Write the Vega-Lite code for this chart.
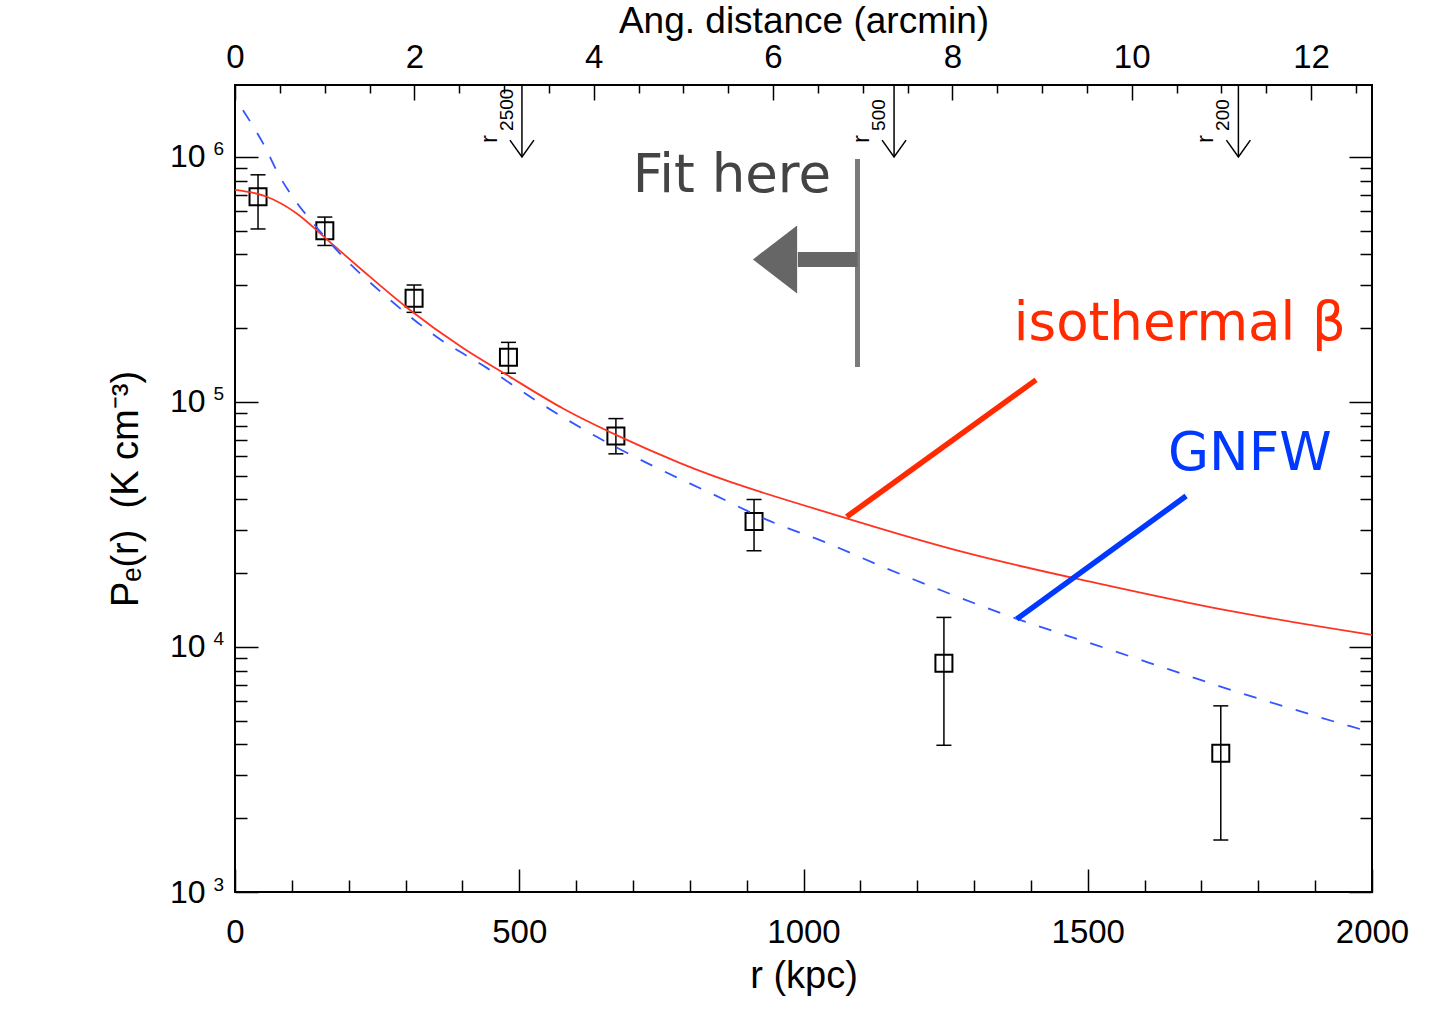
{
  "$schema": "https://vega.github.io/schema/vega-lite/v6.json",
  "width": 1137,
  "height": 807,
  "autosize": {"type": "none"},
  "padding": {"left": 235, "top": 85, "right": 61, "bottom": 139},
  "background": "white",
  "config": {
    "view": {"stroke": "black", "strokeWidth": 2},
    "axis": {"domain": false, "grid": false, "labelFont": "Liberation Sans", "titleFont": "Liberation Sans", "labelColor": "black", "titleColor": "black", "tickColor": "black", "tickWidth": 1.5, "titleFontWeight": "normal", "labelFlush": false, "labelOverlap": false}
  },
  "datasets": {
    "points": [
      {"r": 40.5, "P": 687000, "hi": 845000, "lo": 508000},
      {"r": 158, "P": 500000, "hi": 568000, "lo": 435000},
      {"r": 315, "P": 265000, "hi": 300000, "lo": 232000},
      {"r": 481, "P": 152000, "hi": 175000, "lo": 131000},
      {"r": 670, "P": 72600, "hi": 85500, "lo": 61400},
      {"r": 913, "P": 32500, "hi": 40000, "lo": 24700},
      {"r": 1247, "P": 8580, "hi": 13200, "lo": 3970},
      {"r": 1734, "P": 3680, "hi": 5750, "lo": 1630}
    ],
    "isothermal": [
      {"r": 0, "P": 733000},
      {"r": 55, "P": 689000},
      {"r": 108, "P": 589000},
      {"r": 161, "P": 462000},
      {"r": 225, "P": 343000},
      {"r": 302, "P": 243000},
      {"r": 401, "P": 166000},
      {"r": 478, "P": 129000},
      {"r": 577, "P": 94000},
      {"r": 672, "P": 73000},
      {"r": 783, "P": 56300},
      {"r": 1076, "P": 33500},
      {"r": 1287, "P": 24200},
      {"r": 1522, "P": 18100},
      {"r": 1745, "P": 14100},
      {"r": 2000, "P": 11200}
    ],
    "gnfw": [
      {"r": 14, "P": 1550000},
      {"r": 49, "P": 1140000},
      {"r": 79, "P": 829000},
      {"r": 109, "P": 649000},
      {"r": 137, "P": 538000},
      {"r": 190, "P": 391000},
      {"r": 267, "P": 268000},
      {"r": 355, "P": 184000},
      {"r": 443, "P": 137700},
      {"r": 536, "P": 99100},
      {"r": 637, "P": 71900},
      {"r": 735, "P": 54800},
      {"r": 836, "P": 42500},
      {"r": 936, "P": 33000},
      {"r": 1041, "P": 26600},
      {"r": 1140, "P": 21200},
      {"r": 1240, "P": 17100},
      {"r": 1346, "P": 13770},
      {"r": 1451, "P": 11370},
      {"r": 1516, "P": 10150},
      {"r": 1643, "P": 8100},
      {"r": 1743, "P": 6780},
      {"r": 1852, "P": 5660},
      {"r": 1960, "P": 4760},
      {"r": 2000, "P": 4480}
    ],
    "connectors": [
      {"model": "isothermal β", "r1": 1076, "P1": 34000, "r2": 1409, "P2": 123000},
      {"model": "GNFW", "r1": 1375, "P1": 13000, "r2": 1673, "P2": 41300}
    ],
    "labels": [
      {"text": "Fit here", "r": 874, "P": 719000},
      {"text": "isothermal β", "r": 1662, "P": 179000},
      {"text": "GNFW", "r": 1785, "P": 52800}
    ],
    "fitline": [{"r": 1095, "top": 981000, "bottom": 139000}],
    "fitarrow": [{"from": 1095, "shaft_end": 990, "tip": 911, "P": 381600}],
    "markers": [
      {"label": "2500", "arcmin": 3.2},
      {"label": "500", "arcmin": 7.35},
      {"label": "200", "arcmin": 11.19}
    ]
  },
  "resolve": {"scale": {"x": "independent"}, "axis": {"x": "independent", "y": "independent"}},
  "layer": [
    {
      "resolve": {"axis": {"x": "independent", "y": "independent"}},
      "layer": [
        {
          "data": {"name": "points"},
          "mark": {"type": "rule", "color": "black", "strokeWidth": 1.5},
          "encoding": {
            "x": {"field": "r", "type": "quantitative", "scale": {"domain": [0, 2000], "nice": false, "zero": false},
              "axis": {"orient": "bottom", "values": [0, 500, 1000, 1500, 2000], "tickSize": -23, "labelPadding": 47, "labelFontSize": 33, "format": "d", "title": "r (kpc)", "titleFontSize": 38, "titlePadding": 8}},
            "y": {"field": "lo", "type": "quantitative", "scale": {"type": "log", "domain": [1000, 1965000], "nice": false},
              "axis": {"orient": "left", "values": [1000, 10000, 100000, 1000000], "tickSize": -23, "labelPadding": 53, "labelFontSize": 32, "labelExpr": "'10'", "title": "Pₑ(r)\u00a0\u00a0(K cm⁻³)", "titleFontSize": 38, "titlePadding": 24}},
            "y2": {"field": "hi"}
          }
        },
        {
          "data": {"name": "points"},
          "transform": [{"fold": ["hi", "lo"], "as": ["end", "val"]}],
          "mark": {"type": "tick", "orient": "horizontal", "size": 15, "thickness": 1.5, "color": "black", "opacity": 1},
          "encoding": {
            "x": {"field": "r", "type": "quantitative", "scale": {"domain": [0, 2000], "nice": false, "zero": false},
              "axis": {"orient": "bottom", "values": [100, 200, 300, 400, 600, 700, 800, 900, 1100, 1200, 1300, 1400, 1600, 1700, 1800, 1900], "tickSize": -12, "labels": false, "title": null}},
            "y": {"field": "val", "type": "quantitative", "scale": {"type": "log", "domain": [1000, 1965000], "nice": false},
              "axis": {"orient": "left", "values": [2000, 3000, 4000, 5000, 6000, 7000, 8000, 9000, 20000, 30000, 40000, 50000, 60000, 70000, 80000, 90000, 200000, 300000, 400000, 500000, 600000, 700000, 800000, 900000], "tickSize": -12, "labels": false, "title": null}}
          }
        },
        {
          "data": {"name": "points"},
          "mark": {"type": "point", "shape": "square", "size": 289, "filled": false, "color": "black", "strokeWidth": 2, "opacity": 1},
          "encoding": {
            "x": {"field": "r", "type": "quantitative", "scale": {"domain": [0, 2000], "nice": false, "zero": false}, "axis": null},
            "y": {"field": "P", "type": "quantitative", "scale": {"type": "log", "domain": [1000, 1965000], "nice": false},
              "axis": {"orient": "right", "values": [1000, 10000, 100000, 1000000], "tickSize": -23, "labels": false, "title": null}}
          }
        },
        {
          "data": {"name": "isothermal"},
          "mark": {"type": "line", "color": "#ff3322", "strokeWidth": 1.8, "interpolate": "monotone", "clip": true},
          "encoding": {
            "x": {"field": "r", "type": "quantitative", "scale": {"domain": [0, 2000], "nice": false, "zero": false}, "axis": null},
            "y": {"field": "P", "type": "quantitative", "scale": {"type": "log", "domain": [1000, 1965000], "nice": false},
              "axis": {"orient": "right", "values": [2000, 3000, 4000, 5000, 6000, 7000, 8000, 9000, 20000, 30000, 40000, 50000, 60000, 70000, 80000, 90000, 200000, 300000, 400000, 500000, 600000, 700000, 800000, 900000], "tickSize": -12, "labels": false, "title": null}}
          }
        },
        {
          "data": {"name": "gnfw"},
          "mark": {"type": "line", "color": "#3355ff", "strokeWidth": 1.8, "strokeDash": [13, 14], "interpolate": "monotone", "clip": true},
          "encoding": {
            "x": {"field": "r", "type": "quantitative", "scale": {"domain": [0, 2000], "nice": false, "zero": false}, "axis": null},
            "y": {"field": "P", "type": "quantitative", "scale": {"type": "log", "domain": [1000, 1965000], "nice": false},
              "axis": {"orient": "left", "values": [1000, 10000, 100000, 1000000], "ticks": false, "labelPadding": 22, "labelAlign": "left", "labelOffset": -8, "labelFontSize": 19, "labelExpr": "'' + round(log(datum.value) / LN10)", "title": null}}
          }
        },
        {
          "data": {"name": "connectors"},
          "mark": {"type": "rule", "strokeWidth": 5.5, "strokeCap": "butt"},
          "encoding": {
            "x": {"field": "r1", "type": "quantitative", "scale": {"domain": [0, 2000], "nice": false, "zero": false}, "axis": null},
            "x2": {"field": "r2"},
            "y": {"field": "P1", "type": "quantitative", "scale": {"type": "log", "domain": [1000, 1965000], "nice": false}, "axis": null},
            "y2": {"field": "P2"},
            "color": {"field": "model", "type": "nominal", "scale": {"domain": ["Fit here", "isothermal β", "GNFW"], "range": ["#444444", "#ff2a00", "#0038ff"]}, "legend": null}
          }
        },
        {
          "data": {"name": "fitline"},
          "mark": {"type": "rule", "color": "#7a7a7a", "strokeWidth": 5},
          "encoding": {
            "x": {"field": "r", "type": "quantitative", "scale": {"domain": [0, 2000], "nice": false, "zero": false}, "axis": null},
            "y": {"field": "bottom", "type": "quantitative", "scale": {"type": "log", "domain": [1000, 1965000], "nice": false}, "axis": null},
            "y2": {"field": "top"}
          }
        },
        {
          "data": {"name": "fitarrow"},
          "mark": {"type": "rule", "color": "#666666", "strokeWidth": 15, "strokeCap": "butt"},
          "encoding": {
            "x": {"field": "shaft_end", "type": "quantitative", "scale": {"domain": [0, 2000], "nice": false, "zero": false}, "axis": null},
            "x2": {"field": "from"},
            "y": {"field": "P", "type": "quantitative", "scale": {"type": "log", "domain": [1000, 1965000], "nice": false}, "axis": null}
          }
        },
        {
          "data": {"name": "fitarrow"},
          "mark": {"type": "point", "shape": "M0,0L1.3,-1L1.3,1Z", "size": 4624, "filled": true, "color": "#666666", "opacity": 1, "strokeWidth": 0},
          "encoding": {
            "x": {"field": "tip", "type": "quantitative", "scale": {"domain": [0, 2000], "nice": false, "zero": false}, "axis": null},
            "y": {"field": "P", "type": "quantitative", "scale": {"type": "log", "domain": [1000, 1965000], "nice": false}, "axis": null}
          }
        },
        {
          "data": {"name": "labels"},
          "mark": {"type": "text", "font": "DejaVu Sans", "fontSize": 53, "align": "center", "baseline": "alphabetic"},
          "encoding": {
            "x": {"field": "r", "type": "quantitative", "scale": {"domain": [0, 2000], "nice": false, "zero": false}, "axis": null},
            "y": {"field": "P", "type": "quantitative", "scale": {"type": "log", "domain": [1000, 1965000], "nice": false}, "axis": null},
            "text": {"field": "text"},
            "color": {"field": "text", "type": "nominal", "scale": {"domain": ["Fit here", "isothermal β", "GNFW"], "range": ["#444444", "#ff2a00", "#0038ff"]}, "legend": null}
          }
        }
      ]
    },
    {
      "data": {"name": "markers"},
      "resolve": {"axis": {"x": "independent", "y": "independent"}},
      "layer": [
        {
          "mark": {"type": "rule", "color": "black", "strokeWidth": 1.5},
          "encoding": {
            "x": {"field": "arcmin", "type": "quantitative", "scale": {"domain": [0, 12.68], "nice": false, "zero": false},
              "axis": {"orient": "top", "values": [0, 2, 4, 6, 8, 10, 12], "tickSize": -15, "labelPadding": 26, "labelFontSize": 33, "format": "d", "title": "Ang. distance (arcmin)", "titleFontSize": 37, "titlePadding": 1}},
            "y": {"datum": 1000000, "type": "quantitative", "scale": {"type": "log", "domain": [1000, 1965000], "nice": false}, "axis": null},
            "y2": {"datum": 1965000}
          }
        },
        {
          "mark": {"type": "point", "shape": "M-1,-1.4L0,0L1,-1.4", "size": 576, "filled": false, "color": "black", "strokeWidth": 1.5, "opacity": 1},
          "encoding": {
            "x": {"field": "arcmin", "type": "quantitative", "scale": {"domain": [0, 12.68], "nice": false, "zero": false},
              "axis": {"orient": "top", "values": [0.5, 1, 1.5, 2.5, 3, 3.5, 4.5, 5, 5.5, 6.5, 7, 7.5, 8.5, 9, 9.5, 10.5, 11, 11.5, 12.5], "tickSize": -8, "labels": false, "title": null}},
            "y": {"datum": 1000000, "type": "quantitative", "scale": {"type": "log", "domain": [1000, 1965000], "nice": false}, "axis": null}
          }
        },
        {
          "mark": {"type": "text", "font": "Liberation Sans", "fontSize": 24, "angle": 270, "align": "left", "baseline": "middle", "dx": 14, "dy": -32, "color": "black"},
          "encoding": {
            "x": {"field": "arcmin", "type": "quantitative", "scale": {"domain": [0, 12.68], "nice": false, "zero": false}, "axis": null},
            "y": {"datum": 1000000, "type": "quantitative", "scale": {"type": "log", "domain": [1000, 1965000], "nice": false}, "axis": null},
            "text": {"value": "r"}
          }
        },
        {
          "mark": {"type": "text", "font": "Liberation Sans", "fontSize": 19, "angle": 270, "align": "left", "baseline": "middle", "dx": 26, "dy": -15, "color": "black"},
          "encoding": {
            "x": {"field": "arcmin", "type": "quantitative", "scale": {"domain": [0, 12.68], "nice": false, "zero": false}, "axis": null},
            "y": {"datum": 1000000, "type": "quantitative", "scale": {"type": "log", "domain": [1000, 1965000], "nice": false}, "axis": null},
            "text": {"field": "label"}
          }
        }
      ]
    }
  ]
}
